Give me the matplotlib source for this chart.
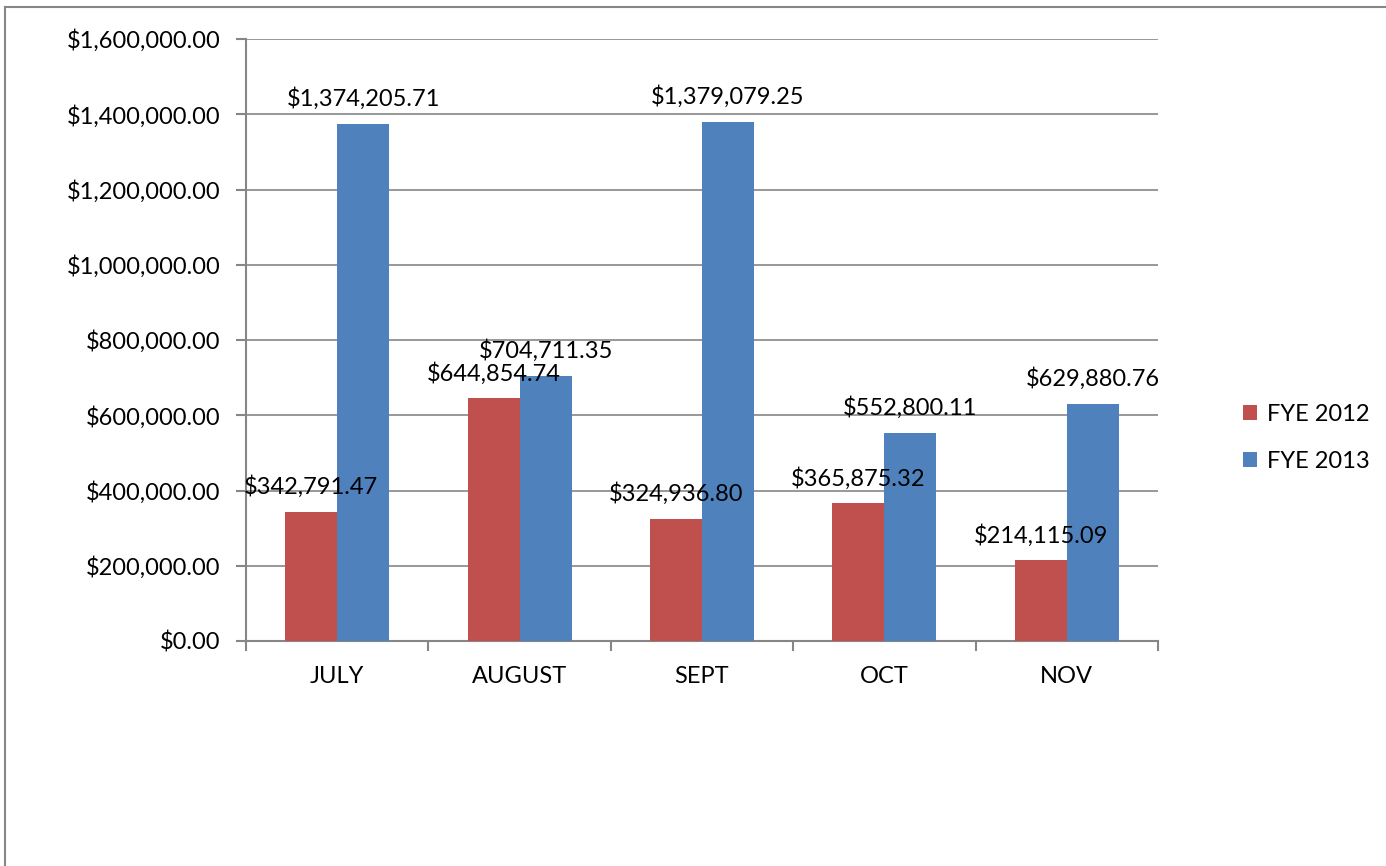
import matplotlib
matplotlib.use("Agg")
import matplotlib.pyplot as plt
from matplotlib.lines import Line2D
from matplotlib.ticker import FuncFormatter, FixedLocator
import numpy as np

categories = ["JULY", "AUGUST", "SEPT", "OCT", "NOV"]
fye2012 = [342791.47, 644854.74, 324936.80, 365875.32, 214115.09]
fye2013 = [1374205.71, 704711.35, 1379079.25, 552800.11, 629880.76]
series_names = ["FYE 2012", "FYE 2013"]
colors = ["#C0504D", "#4F81BD"]

plt.rcParams['font.family'] = ['Lato', 'DejaVu Sans']
FS = 17

fig = plt.figure(figsize=(13.86, 8.66), dpi=100)
ax = fig.add_axes([246/1386, 1-641/866, (1158-246)/1386, (641-39)/866])

x = np.arange(len(categories))
w = 0.285
b1 = ax.bar(x - w/2, fye2012, width=w, color=colors[0], label=series_names[0], zorder=3)
b2 = ax.bar(x + w/2, fye2013, width=w, color=colors[1], label=series_names[1], zorder=3)

for bars, vals in ((b1, fye2012), (b2, fye2013)):
    for rect, v in zip(bars, vals):
        ax.annotate(f"${v:,.2f}", (rect.get_x() + rect.get_width()/2, v),
                    xytext=(0, 10), textcoords="offset points",
                    ha="center", va="bottom", fontsize=FS, color="black", zorder=5)

ax.set_xlim(-0.5, len(categories) - 0.5)
ax.set_ylim(0, 1600000)
ax.set_yticks(np.arange(0, 1600001, 200000))
ax.yaxis.set_major_formatter(FuncFormatter(lambda v, p: f"${v:,.2f}"))
ax.yaxis.grid(True, color="#868686", linewidth=1.2, zorder=0)
ax.set_axisbelow(True)

ax.set_xticks(x)
ax.set_xticklabels(categories, fontsize=FS)
ax.tick_params(axis='x', which='major', length=0, pad=18)
ax.xaxis.set_minor_locator(FixedLocator(np.arange(-0.5, len(categories), 1.0)))
ax.tick_params(axis='x', which='minor', length=7, width=1.5, color="#868686", direction='out')
ax.tick_params(axis='y', length=7, width=1.5, color="#868686", direction='out', pad=11.5, labelsize=FS)

for s in ["top", "right"]:
    ax.spines[s].set_visible(False)
for s in ["left", "bottom"]:
    ax.spines[s].set_color("#868686")
    ax.spines[s].set_linewidth(1.5)

leg = fig.legend(handles=[b1, b2], labels=series_names, loc="center left",
                 bbox_to_anchor=(1222/1386, 1-438/866), frameon=False,
                 fontsize=FS, handlelength=0.6, handleheight=0.6,
                 labelspacing=1.1, handletextpad=0.4)

# chart border (top and left)
fig.add_artist(Line2D([5/1386, 1], [1-7/866, 1-7/866], transform=fig.transFigure,
                      color="#868686", linewidth=1.5))
fig.add_artist(Line2D([5/1386, 5/1386], [0, 1-7/866], transform=fig.transFigure,
                      color="#868686", linewidth=1.5))

fig.savefig("out.png", dpi=100, facecolor="white")
